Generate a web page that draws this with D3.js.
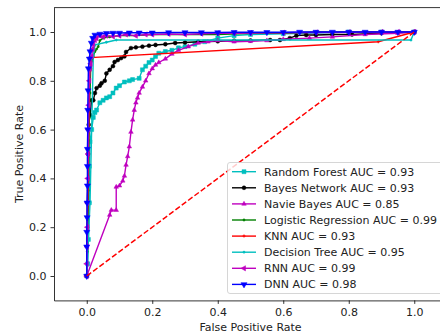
<!DOCTYPE html>
<html>
<head>
<meta charset="utf-8">
<script src="https://cdn.jsdelivr.net/npm/d3@7"></script>
<style>
  body { margin: 0; background: #fff; }
  text { font-family: "DejaVu Sans", sans-serif; }
</style>
</head>
<body>
<div id="chart"></div>
<script>
// ROC data
const rfFpr = [0, 0.003, 0.005, 0.008, 0.008, 0.01, 0.015, 0.02, 0.025, 0.03, 0.04, 0.05, 0.06, 0.07, 0.08, 0.09, 0.1, 0.115, 0.13, 0.14, 0.16, 0.17, 0.18, 0.19, 0.2, 0.21, 0.22, 0.24, 0.26, 0.28, 0.3, 0.33, 0.36, 0.4, 0.45, 0.5, 0.6, 0.7, 0.8, 0.9, 1.0];
const rfTpr = [0, 0.05, 0.15, 0.3, 0.45, 0.55, 0.6, 0.65, 0.67, 0.68, 0.71, 0.72, 0.73, 0.735, 0.75, 0.77, 0.78, 0.795, 0.8, 0.805, 0.81, 0.845, 0.86, 0.875, 0.885, 0.9, 0.913, 0.92, 0.925, 0.935, 0.94, 0.95, 0.96, 0.975, 0.985, 0.99, 0.993, 0.996, 1.0, 1.0, 1.0];

const bnFpr = [0, 0.002, 0.004, 0.006, 0.01, 0.015, 0.02, 0.025, 0.03, 0.04, 0.045, 0.055, 0.06, 0.07, 0.08, 0.085, 0.095, 0.105, 0.115, 0.12, 0.135, 0.15, 0.17, 0.19, 0.21, 0.24, 0.27, 0.3, 0.34, 0.4, 0.45, 0.5, 0.56, 0.59, 0.62, 0.64, 0.67, 0.7, 0.75, 0.81, 0.9, 1.0];
const bnTpr = [0, 0.3, 0.5, 0.62, 0.66, 0.72, 0.72, 0.75, 0.77, 0.78, 0.79, 0.8, 0.83, 0.845, 0.86, 0.877, 0.885, 0.893, 0.9, 0.918, 0.934, 0.937, 0.94, 0.944, 0.947, 0.95, 0.955, 0.957, 0.96, 0.962, 0.964, 0.965, 0.967, 0.967, 0.975, 0.985, 0.988, 0.988, 0.99, 0.99, 0.995, 1.0];

const nbFpr = [0, 0.07, 0.075, 0.09, 0.09, 0.1, 0.11, 0.115, 0.12, 0.125, 0.13, 0.135, 0.14, 0.145, 0.15, 0.155, 0.16, 0.17, 0.18, 0.19, 0.2, 0.21, 0.22, 0.24, 0.26, 0.28, 0.31, 0.34, 0.37, 0.4, 0.45, 0.5, 0.55, 0.6, 0.68, 0.75, 0.85, 0.95, 1.0];
const nbTpr = [0, 0.25, 0.27, 0.27, 0.365, 0.37, 0.39, 0.41, 0.455, 0.49, 0.53, 0.59, 0.64, 0.68, 0.71, 0.73, 0.75, 0.775, 0.8, 0.83, 0.85, 0.865, 0.875, 0.89, 0.91, 0.925, 0.94, 0.955, 0.96, 0.965, 0.96, 0.962, 0.965, 0.97, 0.975, 0.98, 0.99, 0.995, 1.0];

const lrFpr = [0, 0.002, 0.004, 0.005, 0.006, 0.008, 0.01, 0.012, 0.015, 0.02, 0.025, 0.03, 0.035, 0.04, 0.05, 0.07, 0.1, 0.15, 0.2, 0.3, 0.4, 0.5, 0.6, 0.7, 0.8, 0.9, 1.0];
const lrTpr = [0, 0.1, 0.2, 0.35, 0.5, 0.65, 0.75, 0.85, 0.88, 0.9, 0.92, 0.93, 0.94, 0.965, 0.975, 0.98, 0.985, 0.985, 0.99, 0.99, 0.99, 0.995, 0.995, 1.0, 1.0, 1.0, 1.0];

const knnFpr = [0, 0.004, 0.008, 0.012, 0.89, 1.0];
const knnTpr = [0, 0.4, 0.8, 0.895, 0.96, 1.0];

const dtFpr = [0, 0.01, 0.015, 0.02, 0.025, 0.06, 0.09, 0.99, 1.0];
const dtTpr = [0, 0.3, 0.6, 0.9, 0.947, 0.958, 0.967, 0.967, 1.0];

const rnnFpr = [0, 0.0, 0.001, 0.002, 0.002, 0.003, 0.004, 0.005, 0.006, 0.008, 0.01, 0.012, 0.015, 0.018, 0.02, 0.025, 0.03, 0.04, 0.05, 0.06, 0.08, 0.1, 0.12, 0.15, 0.18, 0.2, 0.25, 0.3, 0.35, 0.4, 0.45, 0.5, 0.6, 0.7, 0.8, 0.9, 0.95, 1.0];
const rnnTpr = [0, 0.05, 0.12, 0.2, 0.3, 0.4, 0.5, 0.6, 0.7, 0.8, 0.85, 0.87, 0.9, 0.93, 0.95, 0.967, 0.975, 0.985, 0.98, 0.985, 0.982, 0.985, 0.99, 0.985, 0.99, 0.99, 0.992, 0.99, 0.993, 0.995, 0.995, 0.996, 0.997, 0.998, 0.999, 1.0, 1.0, 1.0];

const dnnFpr = [0, 0, 0, 0.001, 0.001, 0.002, 0.002, 0.002, 0.003, 0.003, 0.004, 0.005, 0.008, 0.01, 0.014, 0.018, 0.025, 0.04, 0.06, 0.08, 0.1, 0.13, 0.16, 0.2, 0.25, 0.3, 0.35, 0.4, 0.45, 0.5, 0.55, 0.6, 0.65, 0.7, 0.75, 0.8, 0.85, 0.9, 0.95, 1.0];
const dnnTpr = [0, 0.12, 0.18, 0.24, 0.3, 0.37, 0.45, 0.52, 0.6, 0.68, 0.76, 0.85, 0.89, 0.92, 0.955, 0.975, 0.988, 0.992, 0.995, 0.996, 0.996, 0.997, 0.997, 0.997, 0.998, 0.998, 0.998, 0.998, 0.999, 0.999, 0.999, 0.999, 1.0, 1.0, 1.0, 1.0, 1.0, 1.0, 1.0, 1.0];

const names = ['Random Forest', 'Bayes Network', 'Navie Bayes', 'Logistic Regression', 'KNN', 'Decision Tree', 'RNN', 'DNN'];
const aucs = [0.93, 0.93, 0.85, 0.99, 0.93, 0.95, 0.99, 0.98];
const fprs = [rfFpr, bnFpr, nbFpr, lrFpr, knnFpr, dtFpr, rnnFpr, dnnFpr];
const tprs = [rfTpr, bnTpr, nbTpr, lrTpr, knnTpr, dtTpr, rnnTpr, dnnTpr];
const ticks = [0, 0.2, 0.4, 0.6, 0.8, 1.0];

// matplotlib classic colours + marker per series
const colors = ['#00bfbf', '#000000', '#bf00bf', '#008000', '#ff0000', '#00bfbf', '#bf00bf', '#0000ff'];
const markers = [
  { type: d3.symbolSquare, size: 16, rot: 0 },
  { type: d3.symbolCircle, size: 12, rot: 0 },
  { type: d3.symbolTriangle, size: 9, rot: 0 },
  { type: d3.symbolCircle, size: 4, rot: 0 },
  { type: d3.symbolCross, size: 5, rot: 0 },
  { type: d3.symbolCircle, size: 4, rot: 0 },
  { type: d3.symbolTriangle, size: 12, rot: -90 },
  { type: d3.symbolTriangle, size: 16, rot: 180 }
];

const W = 440, H = 335;
const pLeft = 54, pRight = 447, pTop = 7.6, pBottom = 300.4;

const svg = d3.select('#chart').append('svg')
  .attr('width', W)
  .attr('height', H);

const x = d3.scaleLinear().domain([-0.1, 1.1]).range([pLeft, pRight]);
const y = d3.scaleLinear().domain([-0.1, 1.1]).range([pBottom, pTop]);

svg.append('clipPath').attr('id', 'clip')
  .append('rect')
  .attr('x', pLeft).attr('y', pTop)
  .attr('width', pRight - pLeft).attr('height', pBottom - pTop);

const plot = svg.append('g').attr('clip-path', 'url(#clip)');
const line = d3.line().x(d => x(d[0])).y(d => y(d[1]));

names.forEach(function (name, i) {
  const pts = d3.zip(fprs[i], tprs[i]);
  const g = plot.append('g');
  g.append('path')
    .attr('d', line(pts))
    .attr('fill', 'none')
    .attr('stroke', colors[i])
    .attr('stroke-width', 1.4);
  const sym = d3.symbol().type(markers[i].type).size(markers[i].size);
  g.selectAll('path.m')
    .data(pts)
    .enter()
    .append('path')
    .attr('class', 'm')
    .attr('d', sym)
    .attr('transform', d => 'translate(' + x(d[0]) + ',' + y(d[1]) + ') rotate(' + markers[i].rot + ')')
    .attr('fill', colors[i])
    .attr('stroke', markers[i].type === d3.symbolCross ? 'none' : colors[i])
    .attr('stroke-width', 0.5);
});

// chance line
plot.append('path')
  .attr('d', line([[0, 0], [1, 1]]))
  .attr('fill', 'none')
  .attr('stroke', '#ff0000')
  .attr('stroke-width', 1.5)
  .attr('stroke-dasharray', '5.5,2.4');

// axes
const xAxis = svg.append('g')
  .attr('transform', 'translate(0,' + pBottom + ')')
  .call(d3.axisBottom(x).tickValues(ticks).tickFormat(d3.format('.1f')).tickSize(3.5).tickSizeOuter(0).tickPadding(4));
const yAxis = svg.append('g')
  .attr('transform', 'translate(' + pLeft + ',0)')
  .call(d3.axisLeft(y).tickValues(ticks).tickFormat(d3.format('.1f')).tickSize(3.5).tickSizeOuter(0).tickPadding(4));

[xAxis, yAxis].forEach(function (a) {
  a.selectAll('text').attr('font-size', 11).attr('fill', '#222').style('font-family', '"DejaVu Sans", sans-serif');
  a.selectAll('line').attr('stroke', '#000').attr('stroke-width', 0.8);
  a.select('.domain').attr('stroke', '#000').attr('stroke-width', 0.8);
});

svg.append('line')
  .attr('x1', pLeft).attr('x2', pRight)
  .attr('y1', pTop).attr('y2', pTop)
  .attr('stroke', '#000').attr('stroke-width', 0.8);

svg.append('text')
  .text('False Positive Rate')
  .attr('x', (pLeft + pRight) / 2)
  .attr('y', 331)
  .attr('text-anchor', 'middle')
  .attr('font-size', 11)
  .attr('fill', '#222');

svg.append('text')
  .text('True Positive Rate')
  .attr('transform', 'translate(23,' + (pTop + pBottom) / 2 + ') rotate(-90)')
  .attr('text-anchor', 'middle')
  .attr('font-size', 11)
  .attr('fill', '#222');

// legend
const legend = svg.append('g');
legend.append('rect')
  .attr('x', 227.5).attr('y', 162.5)
  .attr('width', 225).attr('height', 131)
  .attr('rx', 2.5)
  .attr('fill', '#fff').attr('fill-opacity', 0.8)
  .attr('stroke', '#ccc').attr('stroke-width', 0.8);

names.forEach(function (name, i) {
  const ry = 171.7 + i * 16.1;
  legend.append('line')
    .attr('x1', 232).attr('x2', 256)
    .attr('y1', ry).attr('y2', ry)
    .attr('stroke', colors[i]).attr('stroke-width', 1.4);
  legend.append('path')
    .attr('d', d3.symbol().type(markers[i].type).size(markers[i].size)())
    .attr('transform', 'translate(244,' + ry + ') rotate(' + markers[i].rot + ')')
    .attr('fill', colors[i])
    .attr('stroke', markers[i].type === d3.symbolCross ? 'none' : colors[i])
    .attr('stroke-width', 0.5);
  legend.append('text')
    .text(name + ' AUC = ' + aucs[i].toFixed(2))
    .attr('x', 264)
    .attr('y', ry)
    .attr('dy', '0.36em')
    .attr('font-size', 11)
    .attr('fill', '#222');
});
</script>
</body>
</html>
